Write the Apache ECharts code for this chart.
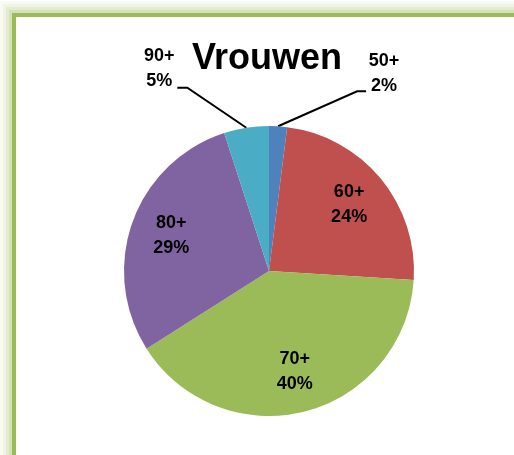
<!DOCTYPE html>
<html><head><meta charset="utf-8">
<script src="https://cdn.jsdelivr.net/npm/echarts@6/dist/echarts.min.js"></script>
<style>html,body{margin:0;padding:0;background:#fff;}#c{width:514px;height:455px;}</style>
</head><body><div id="c"></div>
<script>
const chartTitle = 'Vrouwen';
const categories = ['50+', '60+', '70+', '80+', '90+'];
const percentages = [2, 24, 40, 29, 5];
const colors = ['#4F81BD', '#C0504D', '#9BBB59', '#8064A2', '#4BACC6'];
const outsideLabels = ['50+', '90+'];

const CX = 269, CY = 271, R = 145, INNER_LABEL_R = 104;
const leader = {
  '50+': {elbow: [79, -35], tail: 9, text: [18, -18]},
  '90+': {elbow: [-59, -40], tail: -10, text: [-18, -19]}
};

const total = percentages.reduce((a, b) => a + b, 0);
const midAngles = [];
let acc = 0;
percentages.forEach(v => { midAngles.push((acc + v / 2) / total * 2 * Math.PI); acc += v; });

const data = categories.map((name, i) => {
  const out = outsideLabels.indexOf(name) >= 0;
  return {
    name: name, value: percentages[i],
    itemStyle: {color: colors[i]},
    label: {position: out ? 'outside' : 'inside'},
    labelLine: {show: out}
  };
});

// frame with soft outer glow
const glow = [[3.5, 0.42], [6.5, 0.28], [9.5, 0.16], [12.5, 0.07]].map(g => ({
  type: 'rect', z: -20, silent: true,
  shape: {x: 14 - g[0], y: 15 - g[0], width: 700, height: 700},
  style: {fill: 'none', stroke: 'rgba(155,187,89,' + g[1] + ')', lineWidth: 3}
}));

const chart = echarts.init(document.getElementById('c'), null, {renderer: 'canvas'});
chart.setOption({
  animation: false,
  title: {
    text: chartTitle, left: 262, top: 36, textAlign: 'center',
    textStyle: {fontFamily: 'Liberation Sans', fontWeight: 'bold', fontSize: 36, color: '#000'}
  },
  graphic: glow.concat([{
    type: 'rect', z: -10, silent: true,
    shape: {x: 14, y: 15, width: 700, height: 700},
    style: {fill: '#fff', stroke: '#9BBB59', lineWidth: 4}
  }]),
  series: [{
    type: 'pie',
    center: [CX, CY],
    radius: R,
    startAngle: 90,
    clockwise: true,
    avoidLabelOverlap: false,
    emphasis: {disabled: true},
    label: {
      show: true, formatter: '{b}\n{c}%',
      fontFamily: 'Liberation Sans', fontWeight: 'bold', fontSize: 18, lineHeight: 25, color: '#000'
    },
    labelLine: {lineStyle: {color: '#000', width: 2}},
    labelLayout: function (p) {
      const i = p.dataIndex;
      const a = midAngles[i], s = Math.sin(a), c = Math.cos(a);
      const L = leader[categories[i]];
      if (L) {
        const p0 = [CX + R * s, CY - R * c];
        const p1 = [p0[0] + L.elbow[0], p0[1] + L.elbow[1]];
        const p2 = [p1[0] + L.tail, p1[1]];
        return {x: p2[0] + L.text[0], y: p2[1] + L.text[1], align: 'center', verticalAlign: 'middle', labelLinePoints: [p0, p1, p2]};
      }
      return {x: CX + INNER_LABEL_R * s, y: CY - INNER_LABEL_R * c, align: 'center', verticalAlign: 'middle'};
    },
    data: data
  }]
});
</script></body></html>
